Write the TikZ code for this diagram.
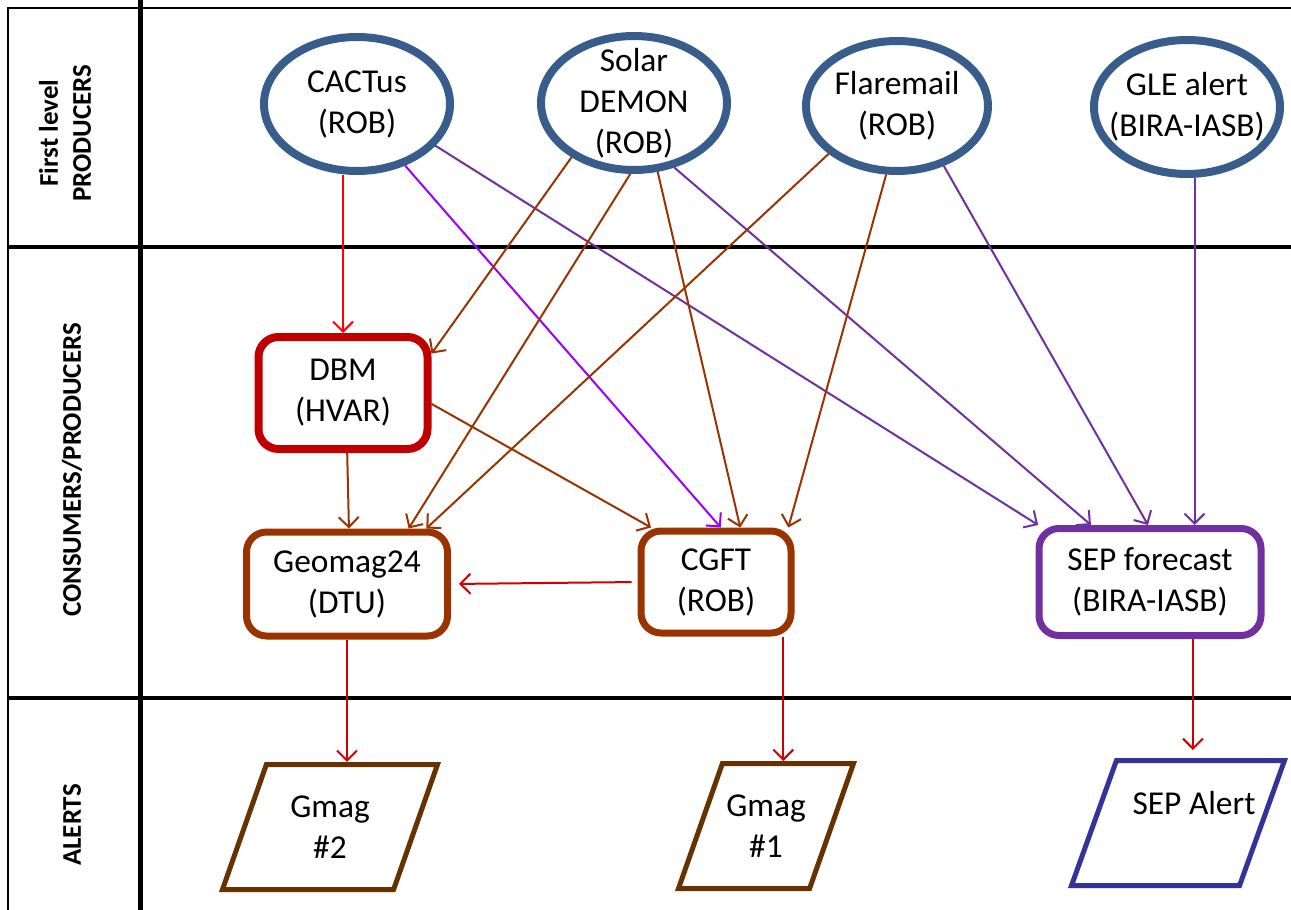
\documentclass[tikz,border=0pt]{standalone}
\usepackage{fontspec}
\setmainfont{Carlito}
\usetikzlibrary{arrows.meta,shapes.geometric}

\definecolor{prodblue}{HTML}{385D8A}
\definecolor{dbmred}{HTML}{C00000}
\definecolor{consbrown}{HTML}{993300}
\definecolor{seppurple}{HTML}{7030A0}
\definecolor{alertbrown}{HTML}{663300}
\definecolor{alertblue}{HTML}{333399}
\definecolor{linkred}{HTML}{D00000}
\definecolor{brightred}{HTML}{FF0000}
\definecolor{linkviolet}{HTML}{9900FF}

\begin{document}
\begin{tikzpicture}[
  x=0.5pt, y=-0.5pt,
  prod/.style={ellipse, draw=prodblue, line width=4pt, inner xsep=-30pt, inner ysep=-15pt,
    minimum width=93pt, minimum height=67pt, align=center, font=\fontsize{16.7}{20.5}\selectfont},
  cons/.style={draw, rounded corners=10pt, line width=3.5pt, inner sep=0pt, align=center,
    font=\fontsize{16.7}{20.5}\selectfont},
  alert/.style={trapezium, trapezium left angle=55, trapezium right angle=125, trapezium stretches body,
    draw, line width=2.5pt, inner sep=0pt, minimum height=62.5pt, align=center,
    font=\fontsize{16.7}{20.5}\selectfont},
  lane/.style={rotate=90, align=center, font=\fontsize{13.5}{16.5}\selectfont\bfseries},
  arr/.style={-{Straight Barb[length=5pt,width=10pt]}, line width=1pt},
  redarr/.style={arr, linkred},
  brownarr/.style={arr, consbrown},
  purparr/.style={arr, seppurple},
  violarr/.style={arr, linkviolet}
]
\useasboundingbox (0,0) rectangle (1291,910);

% lanes
\draw[line width=1pt] (8,910) -- (8,8) -- (1291,8);
\draw[line width=2.5pt] (140,0) -- (140,910);
\draw[line width=2pt] (8,247) -- (1291,247);
\draw[line width=2pt] (8,698) -- (1291,698);

\node[lane] (lvl1) at (65,133) {First level\\PRODUCERS};
\node[lane] (lvl2) at (72,470) {CONSUMERS/PRODUCERS};
\node[lane] (lvl3) at (72,825) {ALERTS};

% first level producers
\node[prod] (cactus) at (357,104) {CACTus\\(ROB)};
\node[prod] (demon) at (634,103) {Solar\\DEMON\\(ROB)};
\node[prod, minimum width=91pt, minimum height=65pt] (flare) at (897,106) {Flaremail\\(ROB)};
\node[prod] (gle) at (1187,107) {GLE alert\\(BIRA-IASB)};

% consumers / producers
\node[cons, draw=dbmred, line width=4pt, minimum width=84.5pt, minimum height=56pt] (dbm) at (343,393) {DBM\\(HVAR)};
\node[cons, draw=consbrown, minimum width=100.5pt, minimum height=52pt] (geomag) at (347,584) {Geomag24\\(DTU)};
\node[cons, draw=consbrown, minimum width=75pt, minimum height=51pt] (cgft) at (716,582) {CGFT\\(ROB)};
\node[cons, draw=seppurple, minimum width=111pt, minimum height=53.5pt] (sepfc) at (1150,582) {SEP forecast\\(BIRA-IASB)};

% alerts
\node[alert, draw=alertbrown, minimum width=107.5pt] (gmag2) at (330,827) {Gmag\\\#2};
\node[alert, draw=alertbrown, minimum width=87.5pt] (gmag1) at (766,826) {Gmag\\\#1};
\node[alert, draw=alertblue, minimum width=106.5pt, inner xsep=-14pt] (sepal) at (1178,823) {\hspace*{16pt}SEP Alert\\\vphantom{\#2}};

\draw[arr, brightred] (dbm.north |- cactus.south) -- (dbm.north);
\draw[violarr] (cactus.-52) -- (cgft.85);
\draw[purparr] (cactus.-28) -- (sepfc.153);

\draw[brownarr] (demon.221) -- (dbm.24);
\draw[brownarr] (demon.267) -- (geomag.42);
\draw[brownarr] (demon.-71) -- (cgft.66);
\draw[purparr] (demon.-58) -- (sepfc.136);

\draw[brownarr] (flare.215) -- (geomag.35);
\draw[brownarr] (flare.261) -- (cgft.37);
\draw[purparr] (flare.-52) -- (sepfc.92);

\draw[purparr] (sepfc.52 |- gle.south) -- (sepfc.52);

\draw[brownarr] (dbm.-86) -- (geomag.88);
\draw[brownarr] (dbm.-7) -- (cgft.140);
\draw[redarr, shorten <=3pt, shorten >=4pt] (cgft.west) -- (geomag.east);

\draw[redarr] (geomag.south) -- (geomag.south |- gmag2.north);
\draw[redarr] (cgft.-39) -- (cgft.-39 |- gmag1.north);
\draw[redarr, shorten >=4pt] (sepfc.-53) -- (sepfc.-53 |- sepal.north);
\end{tikzpicture}
\end{document}
